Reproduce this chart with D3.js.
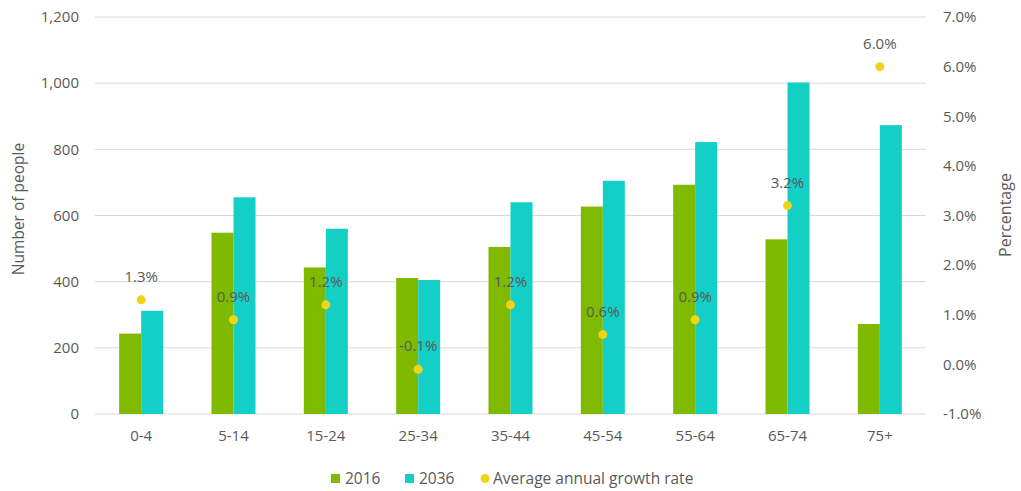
<!DOCTYPE html>
<html><head><meta charset="utf-8">
<script src="https://cdn.jsdelivr.net/npm/d3@7"></script>
<style>body{margin:0;background:#fff}text{font-family:"Open Sans","Liberation Sans",sans-serif}</style>
</head><body><svg id="c" width="1021" height="491"></svg>
<script>
const categories = ["0-4","5-14","15-24","25-34","35-44","45-54","55-64","65-74","75+"];
const values2016 = [243,548,443,411,505,627,693,528,272];
const values2036 = [312,655,560,405,640,705,822,1002,873];
const growthRate = [1.3,0.9,1.2,-0.1,1.2,0.6,0.9,3.2,6.0];
const leftTicks = [0,200,400,600,800,1000,1200];
const rightTicks = [-1,0,1,2,3,4,5,6,7];

const svg = d3.select("#c");
const L=95, R=926, T=17, B=414;
const x = d3.scaleBand().domain(categories).range([L,R]);
const yL = d3.scaleLinear().domain([0,1200]).range([B,T]);
const yR = d3.scaleLinear().domain([-1,7]).range([B,T]);
const grey="#595959";
const fs="15px";

svg.append("g").selectAll("line").data(leftTicks).join("line")
  .attr("x1",L).attr("x2",R).attr("y1",d=>yL(d)).attr("y2",d=>yL(d))
  .attr("stroke","#d9d9d9").attr("stroke-width",1);

const axL = d3.axisLeft(yL).tickValues(leftTicks).tickFormat(d3.format(",")).tickSize(0).tickPadding(16);
const gL = svg.append("g").attr("transform",`translate(${L},0)`).call(axL);
const axR = d3.axisRight(yR).tickValues(rightTicks).tickFormat(d=>d.toFixed(1)+"%").tickSize(0).tickPadding(17);
const gR = svg.append("g").attr("transform",`translate(${R},0)`).call(axR);
const axB = d3.axisBottom(x).tickSize(0).tickPadding(16);
const gB = svg.append("g").attr("transform",`translate(0,${B})`).call(axB);
[gL,gR,gB].forEach(g=>{g.select(".domain").remove();g.selectAll("text").attr("fill",grey).style("font-size",fs).style("font-family",'"Open Sans","Liberation Sans",sans-serif');});

const bw = 22;
svg.append("g").selectAll("rect").data(categories).join("rect")
  .attr("x",d=>x(d)+x.bandwidth()/2-bw).attr("width",bw)
  .attr("y",(d,i)=>yL(values2016[i])).attr("height",(d,i)=>B-yL(values2016[i]))
  .attr("fill","#7fba00");
svg.append("g").selectAll("rect").data(categories).join("rect")
  .attr("x",d=>x(d)+x.bandwidth()/2).attr("width",bw)
  .attr("y",(d,i)=>yL(values2036[i])).attr("height",(d,i)=>B-yL(values2036[i]))
  .attr("fill","#13cfc6");

svg.append("g").selectAll("circle").data(categories).join("circle")
  .attr("cx",d=>x(d)+x.bandwidth()/2).attr("cy",(d,i)=>yR(growthRate[i])).attr("r",4.5)
  .attr("fill","#f0d418");
svg.append("g").selectAll("text").data(categories).join("text")
  .attr("x",d=>x(d)+x.bandwidth()/2).attr("y",(d,i)=>yR(growthRate[i])-18)
  .attr("text-anchor","middle").attr("fill",grey).style("font-size",fs)
  .text((d,i)=>growthRate[i].toFixed(1)+"%");

svg.append("text").attr("transform",`translate(24,209) rotate(-90)`).attr("text-anchor","middle")
  .attr("fill",grey).style("font-size","15.5px").text("Number of people");
svg.append("text").attr("transform",`translate(1011,215) rotate(-90)`).attr("text-anchor","middle")
  .attr("fill",grey).style("font-size","16px").text("Percentage");

const lg = svg.append("g");
lg.append("rect").attr("x",331).attr("y",474).attr("width",9).attr("height",9).attr("fill","#7fba00");
lg.append("text").attr("x",345).attr("y",484).attr("fill",grey).style("font-size","15.5px").text("2016");
lg.append("rect").attr("x",405).attr("y",474).attr("width",9).attr("height",9).attr("fill","#13cfc6");
lg.append("text").attr("x",419).attr("y",484).attr("fill",grey).style("font-size","15.5px").text("2036");
lg.append("circle").attr("cx",485).attr("cy",478.5).attr("r",4.5).attr("fill","#f0d418");
lg.append("text").attr("x",493).attr("y",484).attr("fill",grey).style("font-size","15.5px").text("Average annual growth rate");
</script></body></html>
